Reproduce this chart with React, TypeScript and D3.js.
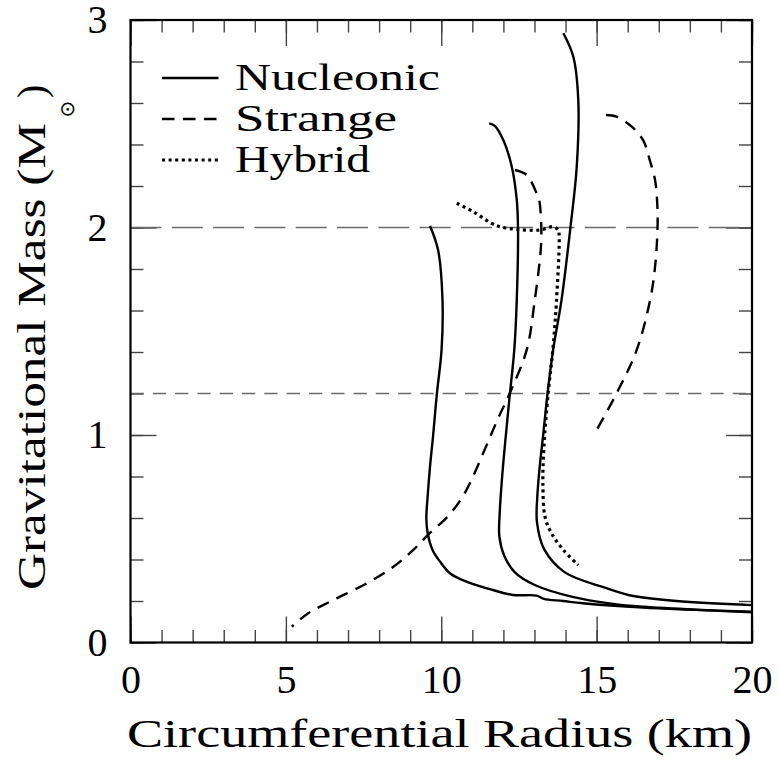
import { useEffect, useRef } from "react";
import * as d3 from "d3";

const W = 779;
const H = 761;
const left = 130.5;
const right = 752;
const top = 20;
const bottom = 642.5;

const xMajor = [0, 5, 10, 15, 20];
const yMajor = [0, 1, 2, 3];
const xMinor = d3.range(0, 21, 1);
const yMinor = d3.range(0, 16, 1).map((i) => i * 0.2);

// [radius km, mass Msun]
const nucleonicA: [number, number][] = [
  [9.64, 2.007], [9.9, 1.89], [10.04, 1.65], [10.01, 1.41], [9.86, 1.2],
  [9.74, 1.0], [9.64, 0.85], [9.56, 0.7], [9.52, 0.6], [9.56, 0.53],
  [9.72, 0.446], [9.96, 0.39], [10.31, 0.33], [10.87, 0.29], [11.66, 0.253],
  [12.31, 0.229], [13.07, 0.226], [13.3, 0.21], [13.92, 0.2], [14.56, 0.189],
  [16.49, 0.168], [18.2, 0.157], [20, 0.146],
];
const nucleonicB: [number, number][] = [
  [11.54, 2.502], [11.73, 2.489], [12.0, 2.42], [12.27, 2.293], [12.43, 2.133],
  [12.47, 2.0], [12.43, 1.65], [12.35, 1.41], [12.21, 1.2], [12.08, 1.0],
  [11.96, 0.8], [11.88, 0.62], [11.87, 0.51], [12.03, 0.417],
  [12.37, 0.338], [13.01, 0.277], [14.19, 0.221], [15.53, 0.186], [16.5, 0.172],
  [18.2, 0.158], [20, 0.148],
];
const nucleonicC: [number, number][] = [
  [13.93, 2.936], [14.25, 2.823], [14.41, 2.614], [14.36, 2.293], [14.16, 2.004],
  [13.87, 1.65], [13.6, 1.41], [13.42, 1.2], [13.28, 1.0], [13.17, 0.85],
  [13.09, 0.7], [13.08, 0.58], [13.31, 0.45], [13.98, 0.338], [15.27, 0.264],
  [16.02, 0.229], [17.57, 0.2], [20, 0.18],
];
const strangeA: [number, number][] = [
  [12.37, 2.277], [12.75, 2.253], [13.07, 2.165], [13.15, 2.133], [13.22, 2.0],
  [13.2, 1.89], [13.01, 1.65], [12.75, 1.41], [12.2, 1.2], [11.8, 1.07],
  [11.4, 0.93], [10.92, 0.767], [10.62, 0.687], [10.2, 0.606], [9.62, 0.526],
  [9.1, 0.446], [8.46, 0.365], [7.6, 0.285], [6.53, 0.205], [5.72, 0.141],
  [5.19, 0.076],
];
const strangeB: [number, number][] = [
  [15.3, 2.542], [15.64, 2.534], [16.13, 2.486], [16.5, 2.42], [16.71, 2.325],
  [16.88, 2.229], [16.95, 2.117], [16.96, 2.0], [16.88, 1.81], [16.72, 1.65],
  [16.29, 1.41], [15.64, 1.2], [14.91, 1.0],
];
const hybrid: [number, number][] = [
  [10.5, 2.117], [11.03, 2.076], [11.62, 2.02], [11.89, 2.004], [12.43, 1.991],
  [13.18, 1.988], [13.6, 2.004], [13.76, 1.988], [13.79, 1.972], [13.71, 1.65],
  [13.59, 1.41], [13.44, 1.2], [13.3, 0.93], [13.27, 0.77], [13.34, 0.605],
  [13.55, 0.526], [13.93, 0.446], [14.41, 0.373],
];

const refLines = [
  { mass: 2.0, dash: "31,10.3" },
  { mass: 1.2, dash: "13.3,9" },
];

const series = [
  { data: nucleonicA, kind: "solid" },
  { data: nucleonicB, kind: "solid" },
  { data: nucleonicC, kind: "solid" },
  { data: strangeA, kind: "dashed" },
  { data: strangeB, kind: "dashed" },
  { data: hybrid, kind: "dotted" },
];

const legend = [
  { label: "Nucleonic", kind: "solid", len: 205 },
  { label: "Strange", kind: "dashed", len: 162 },
  { label: "Hybrid", kind: "dotted", len: 135 },
];

const font = "'Liberation Serif', 'Times New Roman', Times, serif";

const styleLine = (sel, kind) => {
  sel.attr("fill", "none").attr("stroke", "#000");
  if (kind === "solid") sel.attr("stroke-width", 2.4);
  if (kind === "dashed") sel.attr("stroke-width", 2.4).attr("stroke-dasharray", "12.5,8.5");
  if (kind === "dotted") sel.attr("stroke-width", 3.2).attr("stroke-dasharray", "3,3.6");
};

export default function App() {
  const svgRef = useRef(null);

  useEffect(() => {
    document.body.style.margin = "0";
    const svg = d3.select(svgRef.current);
    svg.selectAll("*").remove();

    const x = d3.scaleLinear().domain([0, 20]).range([left, right]);
    const y = d3.scaleLinear().domain([0, 3]).range([bottom, top]);

    const tickStyle = (g) => {
      g.select(".domain").remove();
      g.selectAll(".tick line").attr("stroke", "#444").attr("stroke-width", 1.4);
      g.attr("font-family", font).attr("font-size", 40);
      g.selectAll(".tick text").attr("fill", "#000");
    };

    // minor ticks on all four sides
    svg.append("g").attr("transform", `translate(0,${bottom})`)
      .call(d3.axisBottom(x).tickValues(xMinor).tickSizeInner(-12.5).tickSizeOuter(0).tickFormat(() => ""))
      .call(tickStyle);
    svg.append("g").attr("transform", `translate(0,${top})`)
      .call(d3.axisTop(x).tickValues(xMinor).tickSizeInner(-12.5).tickSizeOuter(0).tickFormat(() => ""))
      .call(tickStyle);
    svg.append("g").attr("transform", `translate(${left},0)`)
      .call(d3.axisLeft(y).tickValues(yMinor).tickSizeInner(-13).tickSizeOuter(0).tickFormat(() => ""))
      .call(tickStyle);
    svg.append("g").attr("transform", `translate(${right},0)`)
      .call(d3.axisRight(y).tickValues(yMinor).tickSizeInner(-13).tickSizeOuter(0).tickFormat(() => ""))
      .call(tickStyle);

    // major ticks with labels
    svg.append("g").attr("transform", `translate(0,${bottom})`)
      .call(d3.axisBottom(x).tickValues(xMajor).tickSizeInner(-26).tickSizeOuter(0).tickPadding(22).tickFormat(d3.format("d")))
      .call(tickStyle);
    svg.append("g").attr("transform", `translate(0,${top})`)
      .call(d3.axisTop(x).tickValues(xMajor).tickSizeInner(-26).tickSizeOuter(0).tickFormat(() => ""))
      .call(tickStyle);
    svg.append("g").attr("transform", `translate(${left},0)`)
      .call(d3.axisLeft(y).tickValues(yMajor).tickSizeInner(-26).tickSizeOuter(0).tickPadding(23).tickFormat(d3.format("d")))
      .call(tickStyle);
    svg.append("g").attr("transform", `translate(${right},0)`)
      .call(d3.axisRight(y).tickValues(yMajor).tickSizeInner(-26).tickSizeOuter(0).tickFormat(() => ""))
      .call(tickStyle);

    // reference mass lines
    svg.append("g").selectAll("line").data(refLines).join("line")
      .attr("x1", x(0)).attr("x2", x(20))
      .attr("y1", (d) => y(d.mass)).attr("y2", (d) => y(d.mass))
      .attr("stroke", "#6a6a6a").attr("stroke-width", 1.6)
      .attr("stroke-dasharray", (d) => d.dash);

    // curves
    const line = d3.line<[number, number]>()
      .x((d) => x(d[0])).y((d) => y(d[1]))
      .curve(d3.curveCatmullRom.alpha(0.5));
    const curves = svg.append("g");
    series.forEach((s) => {
      curves.append("path").attr("d", line(s.data)).call(styleLine, s.kind);
    });

    // frame
    svg.append("rect").attr("x", left).attr("y", top)
      .attr("width", right - left).attr("height", bottom - top)
      .attr("fill", "none").attr("stroke", "#000").attr("stroke-width", 2.2);

    // legend
    const lg = svg.append("g");
    legend.forEach((d, i) => {
      const ly = 78 + i * 41;
      lg.append("line").attr("x1", 162).attr("x2", 218.5).attr("y1", ly).attr("y2", ly)
        .call(styleLine, d.kind);
      lg.append("text").attr("x", 235).attr("y", ly + 12)
        .attr("font-family", font).attr("font-size", 38)
        .attr("textLength", d.len).attr("lengthAdjust", "spacingAndGlyphs")
        .text(d.label);
    });

    // axis titles
    svg.append("text").attr("x", 127).attr("y", 747)
      .attr("font-family", font).attr("font-size", 40)
      .attr("textLength", 625).attr("lengthAdjust", "spacingAndGlyphs")
      .text("Circumferential Radius (km)");

    const yt = svg.append("g").attr("transform", "translate(45,590) rotate(-90)")
      .attr("font-family", font).attr("font-size", 40);
    yt.append("text").attr("x", 0).attr("y", 0)
      .attr("textLength", 467).attr("lengthAdjust", "spacingAndGlyphs")
      .text("Gravitational Mass (M");
    yt.append("text").attr("x", 481).attr("y", 22)
      .attr("font-family", "DejaVu Sans").attr("font-size", 20)
      .attr("text-anchor", "middle").attr("dominant-baseline", "central")
      .text("⊙");
    yt.append("text").attr("x", 492).attr("y", 0).text(")");
  }, []);

  return <svg ref={svgRef} width={W} height={H} style={{ display: "block", background: "#fff" }} />;
}
